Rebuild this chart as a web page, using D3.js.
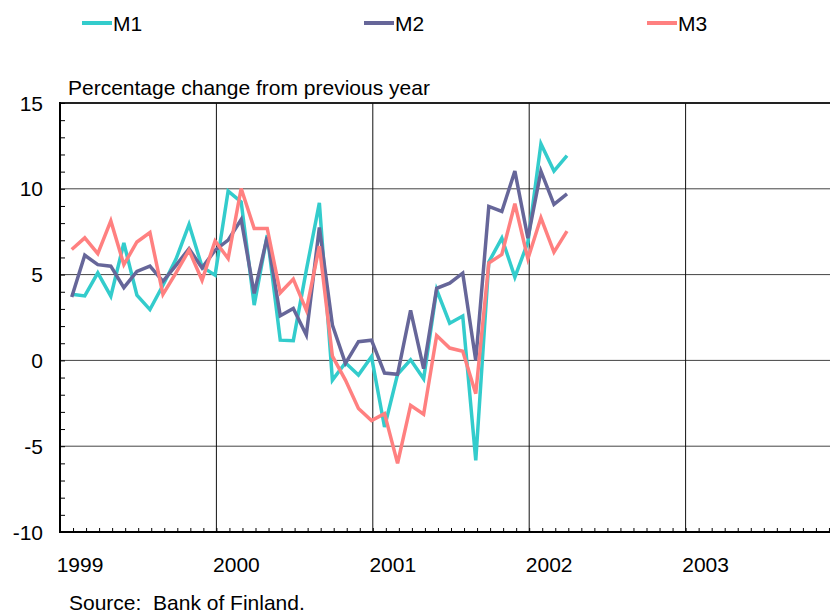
<!DOCTYPE html>
<html>
<head>
<meta charset="utf-8">
<script src="https://cdn.jsdelivr.net/npm/d3@7"></script>
<style>
  body { margin: 0; background: #fff; }
  text { font-family: "Liberation Sans", Arial, sans-serif; fill: #000; white-space: pre; }
</style>
</head>
<body>
<div id="money_chart"></div>
<script>
// monthly observations, Jan 1999 to Mar 2002
var startYear = 1999;
var years = [1999, 2000, 2001, 2002, 2003];
var yTicks = [15, 10, 5, 0, -5, -10];
var seriesNames = ["M1", "M2", "M3"];
var seriesColors = ["#33cccc", "#666699", "#ff8080"];

var m1 = [3.85, 3.76, 5.1, 3.74, 6.84, 3.8, 2.96, 4.38, 5.9, 7.93, 5.45, 4.97,
  9.87, 9.24, 3.22, 7.3, 1.18, 1.15, 5.26, 9.18, -1.15, -0.14, -0.85, 0.22,
  -3.88, -0.81, 0.04, -1.07, 4.11, 2.17, 2.59, -5.82, 5.73, 7.13, 4.85, 6.89,
  12.62, 11.03, 11.94];
var m2 = [3.7, 6.13, 5.58, 5.49, 4.24, 5.19, 5.5, 4.61, 5.54, 6.51, 5.39, 6.42,
  7.01, 8.21, 3.9, 7.2, 2.6, 3.03, 1.48, 7.75, 2.06, -0.17, 1.09, 1.18,
  -0.74, -0.81, 2.91, -0.48, 4.2, 4.5, 5.08, 0.0, 8.97, 8.68, 11.03, 7.13,
  11.03, 9.09, 9.71];
var m3 = [6.46, 7.14, 6.22, 8.13, 5.58, 6.9, 7.45, 3.85, 5.1, 6.42, 4.67, 6.96,
  5.94, 10.02, 7.69, 7.69, 3.94, 4.74, 2.93, 6.66, 0.25, -1.15, -2.8, -3.51,
  -3.1, -6.0, -2.62, -3.14, 1.45, 0.72, 0.53, -1.94, 5.67, 6.17, 9.13, 5.92,
  8.31, 6.31, 7.53];
var allSeries = [m1, m2, m3];

// dimensions
var margin = { top: 103, right: 0, bottom: 81, left: 60 },
  width = 830 - margin.left - margin.right,
  height = 613 - margin.top - margin.bottom;

var svg = d3
  .select("#money_chart")
  .append("svg")
  .attr("width", 830)
  .attr("height", 613);

var g = svg
  .append("g")
  .attr("transform", "translate(" + margin.left + "," + margin.top + ")");

// x is in fractional years, one year is about 156 px
var x = d3.scaleLinear().domain([1999, 2004]).range([0, 782]);
var y = d3.scaleLinear().domain([-10, 15]).range([height, 0]);

// month position of observation i (points sit near the end of the month)
var monthPos = function (i) {
  return startYear + (i + 0.9) / 12;
};

// horizontal gridlines at the labelled values
g.append("g")
  .selectAll("line")
  .data(yTicks)
  .enter()
  .append("line")
  .attr("x1", 0)
  .attr("x2", width)
  .attr("y1", function (d) { return y(d); })
  .attr("y2", function (d) { return y(d); })
  .attr("stroke", function (d) { return d == 15 ? "#222" : "#444"; })
  .attr("stroke-width", function (d) { return d == 15 ? 2 : 1; });

// vertical year lines
g.append("g")
  .selectAll("line")
  .data(years.slice(1))
  .enter()
  .append("line")
  .attr("x1", function (d) { return x(d); })
  .attr("x2", function (d) { return x(d); })
  .attr("y1", 0)
  .attr("y2", height)
  .attr("stroke", "#111")
  .attr("stroke-width", 1);

// y axis: small ticks every unit pointing inwards
var yAxis = g
  .append("g")
  .call(d3.axisRight(y).tickValues(d3.range(-10, 16, 1)).tickSize(5).tickFormat(""));
yAxis.select(".domain").remove();
yAxis.selectAll("line").attr("stroke", "#000");

g.selectAll(".ylab")
  .data(yTicks)
  .enter()
  .append("text")
  .attr("class", "ylab")
  .attr("x", -17)
  .attr("y", function (d) { return y(d); })
  .attr("dy", "0.36em")
  .attr("text-anchor", "end")
  .attr("font-size", "21px")
  .text(function (d) { return d; });

// x axis: monthly ticks pointing up
var monthTicks = d3.range(1999, 2004.01, 1 / 12);
var xAxis = g
  .append("g")
  .attr("transform", "translate(0," + height + ")")
  .call(d3.axisTop(x).tickValues(monthTicks).tickSize(4).tickFormat(""));
xAxis.select(".domain").remove();
xAxis.selectAll("line").attr("stroke", "#000");

g.selectAll(".xlab")
  .data(years)
  .enter()
  .append("text")
  .attr("class", "xlab")
  .attr("x", function (d) { return x(d) + 20; })
  .attr("y", height + 40)
  .attr("text-anchor", "middle")
  .attr("font-size", "21px")
  .text(function (d) { return d; });

// axis frame lines
g.append("line")
  .attr("x1", 0).attr("x2", 0)
  .attr("y1", -1).attr("y2", height + 1)
  .attr("stroke", "#000").attr("stroke-width", 2);
g.append("line")
  .attr("x1", 0).attr("x2", width)
  .attr("y1", height).attr("y2", height)
  .attr("stroke", "#000").attr("stroke-width", 2);

// the three money supply lines
var line = d3
  .line()
  .x(function (d, i) { return x(monthPos(i)); })
  .y(function (d) { return y(d); });

g.append("g")
  .selectAll("path")
  .data(allSeries)
  .enter()
  .append("path")
  .attr("d", line)
  .attr("fill", "none")
  .attr("stroke", function (d, i) { return seriesColors[i]; })
  .attr("stroke-width", 3.5);

// legend on top
var legendX = [82, 364, 647];
var legend = svg
  .selectAll(".legend")
  .data(seriesNames)
  .enter()
  .append("g")
  .attr("class", "legend")
  .attr("transform", function (d, i) { return "translate(" + legendX[i] + ",23)"; });
legend
  .append("line")
  .attr("x1", 0)
  .attr("x2", 30)
  .attr("stroke", function (d, i) { return seriesColors[i]; })
  .attr("stroke-width", 4);
legend
  .append("text")
  .attr("x", 31)
  .attr("dy", "0.36em")
  .attr("font-size", "21px")
  .text(function (d) { return d; });

// titles
svg.append("text")
  .attr("x", 68)
  .attr("y", 95)
  .attr("font-size", "21px")
  .text("Percentage change from previous year");

svg.append("text")
  .attr("x", 69)
  .attr("y", 610)
  .attr("font-size", "21px")
  .text("Source:  Bank of Finland.");
</script>
</body>
</html>
